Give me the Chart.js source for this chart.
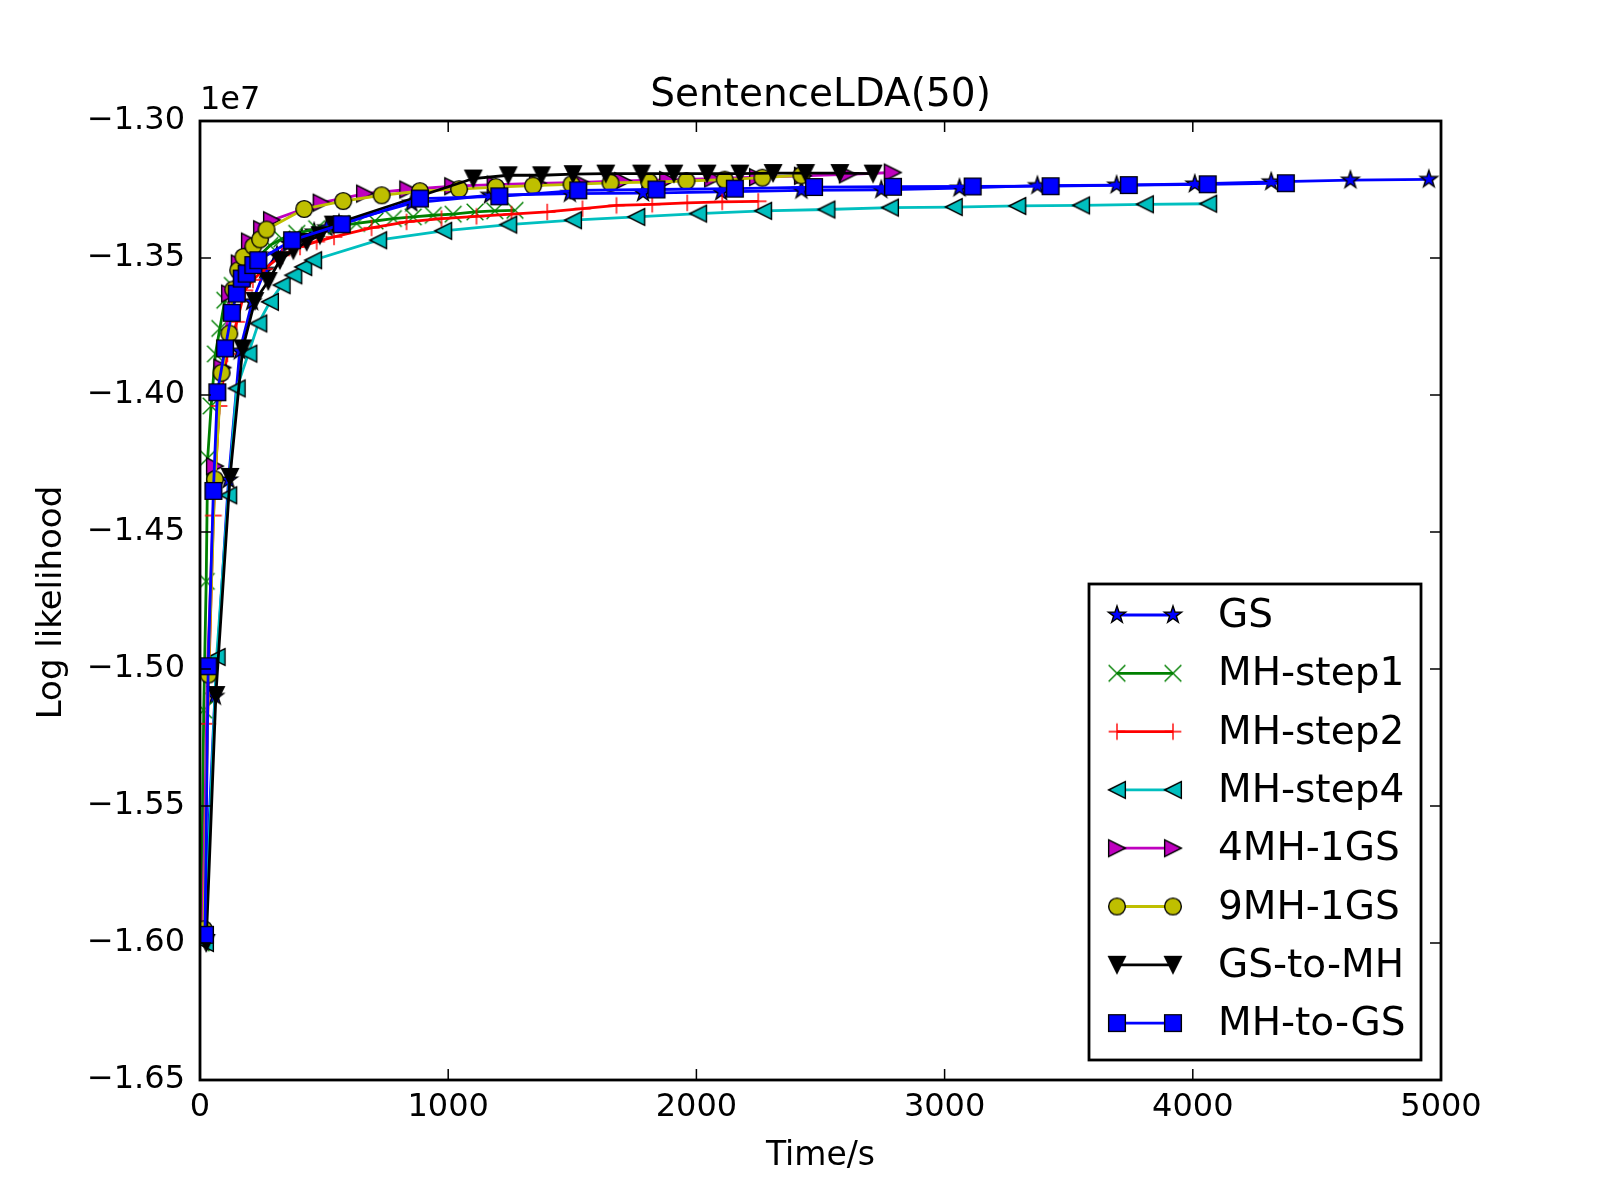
<!DOCTYPE html>
<html>
<head>
<meta charset="utf-8">
<title>SentenceLDA(50)</title>
<script src="https://cdn.jsdelivr.net/npm/chart.js@4.4.1/dist/chart.umd.min.js"></script>
<style>
  html, body { margin: 0; padding: 0; background: #fff; }
  #wrap { width: 1600px; height: 1200px; }
</style>
</head>
<body>
<div id="wrap"><canvas id="chart" width="1600" height="1200"></canvas></div>
<script>
// Log likelihood values are kept in units of 1e7 (shown as offset text on the axis)
const OFFSET_TEXT = '1e7';
const xTicks = [0, 1000, 2000, 3000, 4000, 5000];
const yTicks = [-1.65, -1.60, -1.55, -1.50, -1.45, -1.40, -1.35, -1.30];

const seriesNames = ['GS', 'MH-step1', 'MH-step2', 'MH-step4', '4MH-1GS', '9MH-1GS', 'GS-to-MH', 'MH-to-GS'];

// GS
const gsTime = [15, 60, 115, 160, 210, 262, 310, 360, 410, 460, 510, 560, 852, 1168, 1490, 1785, 2100, 2423, 2745, 3060, 3374, 3693, 4008, 4316, 4635, 4951];
const gsLL = [-1.598, -1.510, -1.431, -1.384, -1.366, -1.3545, -1.349, -1.3448, -1.3425, -1.3405, -1.339, -1.3375, -1.3300, -1.3271, -1.3265, -1.3263, -1.3259, -1.3253, -1.3251, -1.3245, -1.3236, -1.3234, -1.3230, -1.3222, -1.3216, -1.3213];

// MH-step1
const mh1Time = [5, 15, 25, 31, 45, 62, 80, 100, 130, 180, 230, 282, 330, 390, 470, 550, 631, 705, 779, 859, 940, 1020, 1108, 1188, 1269];
const mh1LL = [-1.600, -1.515, -1.468, -1.423, -1.404, -1.385, -1.3757, -1.3654, -1.360, -1.354, -1.350, -1.3454, -1.343, -1.341, -1.3393, -1.3384, -1.3374, -1.3365, -1.3356, -1.3350, -1.3344, -1.3340, -1.3332, -1.3328, -1.3326];

// MH-step2
const mh2Time = [10, 30, 54, 77, 110, 148, 181, 213, 260, 330, 403, 470, 540, 691, 832, 973, 1114, 1255, 1399, 1541, 1678, 1822, 1963, 2104, 2249];
const mh2LL = [-1.598, -1.520, -1.444, -1.404, -1.385, -1.3733, -1.3618, -1.358, -1.354, -1.349, -1.346, -1.344, -1.3423, -1.3390, -1.3368, -1.3356, -1.3348, -1.3340, -1.3332, -1.3320, -1.3308, -1.3304, -1.3299, -1.3295, -1.3293];

// MH-step4
const mh4Time = [20, 67, 114, 148, 195, 235, 282, 329, 376, 416, 456, 718, 980, 1242, 1503, 1758, 2007, 2269, 2524, 2780, 3037, 3293, 3550, 3807, 4062];
const mh4LL = [-1.600, -1.4956, -1.4366, -1.3976, -1.3849, -1.3739, -1.3660, -1.3599, -1.3563, -1.3533, -1.3508, -1.3435, -1.3401, -1.3378, -1.3362, -1.3350, -1.3338, -1.3328, -1.3323, -1.3316, -1.3314, -1.3310, -1.3308, -1.3304, -1.3302];

// 4MH-1GS
const mh4gsTime = [12, 30, 60, 90, 121, 160, 201, 250, 290, 490, 665, 839, 1020, 1191, 1362, 1534, 1705, 1886, 2067, 2248, 2429, 2610, 2791];
const mh4gsLL = [-1.595, -1.500, -1.426, -1.390, -1.363, -1.352, -1.344, -1.3395, -1.3362, -1.3298, -1.3265, -1.3250, -1.3238, -1.3232, -1.3228, -1.3224, -1.3219, -1.3215, -1.3210, -1.3205, -1.3200, -1.3195, -1.3188];

// 9MH-1GS
const mh9gsTime = [16, 34, 60, 87, 118, 134, 154, 175, 215, 242, 268, 420, 577, 732, 886, 1044, 1192, 1342, 1497, 1654, 1810, 1960, 2114, 2266, 2423];
const mh9gsLL = [-1.595, -1.502, -1.4308, -1.3919, -1.3776, -1.3615, -1.3545, -1.3496, -1.3457, -1.3432, -1.3396, -1.3321, -1.3292, -1.3271, -1.3256, -1.3249, -1.3241, -1.3236, -1.3231, -1.3226, -1.3223, -1.3219, -1.3214, -1.3207, -1.3198];

// GS-to-MH
const gsToMhTime = [25, 64, 121, 172, 221, 275, 322, 376, 430, 483, 537, 1101, 1242, 1376, 1503, 1635, 1779, 1909, 2043, 2175, 2309, 2440, 2578, 2712];
const gsToMhLL = [-1.600, -1.5095, -1.4299, -1.383, -1.3657, -1.3584, -1.3508, -1.3472, -1.3441, -1.3417, -1.3378, -1.3210, -1.3198, -1.3198, -1.3194, -1.3192, -1.3192, -1.3192, -1.3192, -1.3192, -1.3190, -1.3190, -1.3190, -1.3192];

// MH-to-GS
const mhToGsTime = [20, 33, 54, 70, 101, 128, 148, 168, 188, 215, 235, 371, 571, 886, 1206, 1524, 1839, 2155, 2474, 2792, 3113, 3427, 3742, 4060, 4375];
const mhToGsLL = [-1.597, -1.499, -1.435, -1.399, -1.383, -1.370, -1.363, -1.3575, -1.3557, -1.3526, -1.3508, -1.3435, -1.3377, -1.3283, -1.3275, -1.3253, -1.3250, -1.3247, -1.3241, -1.3240, -1.3239, -1.3238, -1.3234, -1.3231, -1.3227];

const seriesTimes = [gsTime, mh1Time, mh2Time, mh4Time, mh4gsTime, mh9gsTime, gsToMhTime, mhToGsTime];
const seriesValues = [gsLL, mh1LL, mh2LL, mh4LL, mh4gsLL, mh9gsLL, gsToMhLL, mhToGsLL];
const seriesColors = ['#0000ff', '#008000', '#ff0000', '#00bfbf', '#bf00bf', '#bfbf00', '#000000', '#0000ff'];
const seriesMarkers = ['star', 'x', 'plus', 'triLeft', 'triRight', 'circle', 'triDown', 'square'];

const TICK_LEN = 11;
const FONT = 'DejaVu Sans';

// Build a matplotlib-like marker on a small canvas
function makeMarker(shape, color) {
    const S = 26, c = S / 2, h = 8.35;
    const cv = document.createElement('canvas');
    cv.width = S; cv.height = S;
    const g = cv.getContext('2d');
    g.lineWidth = 1.4;
    g.fillStyle = color;
    g.strokeStyle = '#000';
    g.beginPath();
    if (shape === 'x' || shape === 'plus') {
        g.strokeStyle = color;
        if (shape === 'x') {
            g.moveTo(c - h, c - h); g.lineTo(c + h, c + h);
            g.moveTo(c - h, c + h); g.lineTo(c + h, c - h);
        } else {
            g.moveTo(c - h, c); g.lineTo(c + h, c);
            g.moveTo(c, c - h); g.lineTo(c, c + h);
        }
        g.stroke();
        return cv;
    }
    if (shape === 'circle') {
        g.arc(c, c, h, 0, Math.PI * 2);
    } else if (shape === 'square') {
        g.rect(c - h, c - h, 2 * h, 2 * h);
    } else if (shape === 'star') {
        for (let k = 0; k < 10; k++) {
            const r = k % 2 ? h * 0.42 : h * 1.08;
            const ang = -Math.PI / 2 + k * Math.PI / 5;
            g.lineTo(c + r * Math.cos(ang), c + r * Math.sin(ang));
        }
    } else if (shape === 'triLeft') {
        g.moveTo(c - h, c); g.lineTo(c + h, c - h); g.lineTo(c + h, c + h);
    } else if (shape === 'triRight') {
        g.moveTo(c + h, c); g.lineTo(c - h, c - h); g.lineTo(c - h, c + h);
    } else if (shape === 'triDown') {
        g.moveTo(c, c + h); g.lineTo(c - h, c - h); g.lineTo(c + h, c - h);
    }
    g.closePath();
    g.fill();
    g.stroke();
    return cv;
}

const datasets = seriesNames.map((name, i) => ({
    label: name,
    data: seriesTimes[i].map((t, j) => ({ x: t, y: seriesValues[i][j] })),
    borderColor: seriesColors[i],
    backgroundColor: seriesColors[i],
    borderWidth: 2.8,
    pointStyle: makeMarker(seriesMarkers[i], seriesColors[i]),
    pointRadius: 8,
    tension: 0,
    fill: false,
    order: seriesNames.length - 1 - i
}));

// Frame, inward ticks, title, labels and legend drawn the matplotlib way
const axesDecor = {
    id: 'axesDecor',
    afterDraw(chart) {
        const { ctx, chartArea: a, scales: { x, y } } = chart;
        ctx.save();

        ctx.strokeStyle = '#000';
        ctx.lineWidth = 1.5;
        ctx.beginPath();
        x.ticks.forEach(t => {
            const px = x.getPixelForValue(t.value);
            ctx.moveTo(px, a.bottom); ctx.lineTo(px, a.bottom - TICK_LEN);
            ctx.moveTo(px, a.top); ctx.lineTo(px, a.top + TICK_LEN);
        });
        y.ticks.forEach(t => {
            const py = y.getPixelForValue(t.value);
            ctx.moveTo(a.left, py); ctx.lineTo(a.left + TICK_LEN, py);
            ctx.moveTo(a.right, py); ctx.lineTo(a.right - TICK_LEN, py);
        });
        ctx.stroke();

        ctx.lineWidth = 2.8;
        ctx.strokeRect(a.left, a.top, a.right - a.left, a.bottom - a.top);

        // texts
        ctx.fillStyle = '#000';
        const cx = (a.left + a.right) / 2;
        ctx.textAlign = 'center';
        ctx.textBaseline = 'alphabetic';
        ctx.font = `39px "${FONT}"`;
        ctx.fillText('SentenceLDA(50)', cx, a.top - 15);
        ctx.font = `33px "${FONT}"`;
        ctx.fillText('Time/s', cx, a.bottom + 85);
        ctx.font = `32px "${FONT}"`;
        ctx.textAlign = 'left';
        ctx.fillText(OFFSET_TEXT, a.left, a.top - 12);
        ctx.save();
        ctx.translate(52, (a.top + a.bottom) / 2 + 2);
        ctx.rotate(-Math.PI / 2);
        ctx.textAlign = 'center';
        ctx.textBaseline = 'middle';
        ctx.font = `34px "${FONT}"`;
        ctx.fillText('Log likelihood', 0, 0);
        ctx.restore();

        // legend
        const bx = a.left + 889, by = a.top + 463, bw = 332, bh = 476;
        ctx.fillStyle = '#fff';
        ctx.fillRect(bx, by, bw, bh);
        ctx.lineWidth = 2.8;
        ctx.strokeStyle = '#000';
        ctx.strokeRect(bx, by, bw, bh);
        ctx.font = `39px "${FONT}"`;
        ctx.textAlign = 'left';
        ctx.textBaseline = 'middle';
        chart.data.datasets.forEach((ds, i) => {
            const ry = by + 31 + i * 58.3;
            const x1 = bx + 28, x2 = bx + 84;
            ctx.strokeStyle = ds.borderColor;
            ctx.lineWidth = 2.8;
            ctx.beginPath();
            ctx.moveTo(x1, ry); ctx.lineTo(x2, ry);
            ctx.stroke();
            const m = ds.pointStyle;
            ctx.drawImage(m, x1 - m.width / 2, ry - m.height / 2);
            ctx.drawImage(m, x2 - m.width / 2, ry - m.height / 2);
            ctx.fillStyle = '#000';
            ctx.fillText(ds.label, bx + 129, ry + 2);
        });

        ctx.restore();
    }
};

new Chart(document.getElementById('chart').getContext('2d'), {
    type: 'line',
    data: { datasets },
    options: {
        responsive: false,
        animation: false,
        devicePixelRatio: 1,
        layout: { padding: { left: 0, right: 159, top: 121, bottom: 0 } },
        plugins: {
            legend: { display: false },
            tooltip: { enabled: false },
            title: { display: false }
        },
        scales: {
            x: {
                type: 'linear',
                min: 0,
                max: 5000,
                grid: { display: false, drawTicks: false },
                border: { display: false },
                ticks: {
                    color: '#000',
                    font: { family: FONT, size: 32 },
                    padding: 8,
                    maxRotation: 0,
                    callback: v => String(v)
                },
                afterBuildTicks: s => { s.ticks = xTicks.map(v => ({ value: v })); },
                afterFit: s => { s.height = 120; }
            },
            y: {
                type: 'linear',
                min: -1.65,
                max: -1.30,
                grid: { display: false, drawTicks: false },
                border: { display: false },
                ticks: {
                    color: '#000',
                    font: { family: FONT, size: 32 },
                    padding: 15,
                    callback: v => v.toFixed(2).replace('-', '\u2212')
                },
                afterBuildTicks: s => { s.ticks = yTicks.map(v => ({ value: v })); },
                afterFit: s => { s.width = 200; }
            }
        }
    },
    plugins: [axesDecor]
});
</script>
</body>
</html>
